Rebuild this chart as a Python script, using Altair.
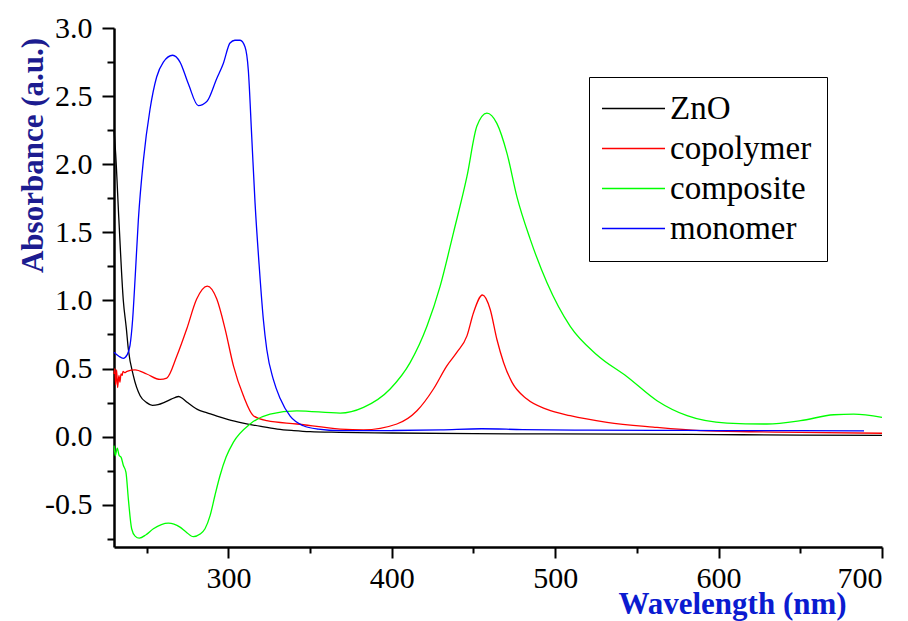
import altair as alt
import pandas as pd

series_names = ["ZnO", "copolymer", "composite", "monomer"]
series_colors = ["#000000", "#ff0000", "#00ff00", "#0000ff"]

wl_zno = [230, 231, 233, 235.7, 237.5, 238.8, 241.8, 246, 250, 253.5, 257, 260.5, 265, 269.5,
          272, 275, 281, 287, 293, 300, 309, 320, 330, 340, 350, 368, 400, 450, 500, 550,
          600, 650, 700]
abs_zno = [2.25, 2.08, 1.59, 1.0, 0.80, 0.64, 0.45, 0.30, 0.25, 0.23, 0.235, 0.25, 0.275, 0.295,
           0.28, 0.25, 0.20, 0.175, 0.15, 0.125, 0.10, 0.075, 0.056, 0.045, 0.037, 0.032, 0.027,
           0.022, 0.02, 0.018, 0.015, 0.012, 0.01]

wl_copo = [230, 230.5, 231, 231.6, 232.2, 233, 233.6, 234.3, 235, 235.5, 236.5, 238, 242.9, 250,
           258.2, 262.3, 268.4, 274.5, 280.6, 287.1, 292.9, 298, 303.1, 309.2, 315.3, 323.5,
           341.9, 368.4, 382.7, 403.1, 415.4, 425.5, 433.7, 439.9, 446, 450, 455.5, 460.2,
           464.3, 468.4, 473.5, 482.7, 495, 509.2, 531.7, 560, 588.8, 620, 650, 700]
abs_copo = [0.46, 0.50, 0.38, 0.49, 0.36, 0.45, 0.40, 0.46, 0.45, 0.48, 0.47, 0.48, 0.49, 0.46,
            0.42, 0.43, 0.59, 0.79, 1.01, 1.105, 1.01, 0.79, 0.52, 0.30, 0.154, 0.117,
            0.093, 0.056, 0.05, 0.093, 0.19, 0.35, 0.52, 0.62, 0.74, 0.91, 1.04, 0.935,
            0.715, 0.545, 0.40, 0.276, 0.20, 0.154, 0.105, 0.07, 0.044, 0.036, 0.032, 0.025]

wl_comp = [230, 230.8, 232, 233.2, 234.3, 235.7, 237.3, 238.8, 240.8, 242.9, 245.5, 249.6, 254.1,
           263.3, 270.4, 274.1, 278.6, 282.7, 285.7, 288.8, 291.8, 294.9, 298.6, 303.1, 313.3,
           325.5, 341.9, 368.4, 382.7, 399, 411.3, 421.5, 429.6, 437.8, 446, 452.1, 458.2,
           464.3, 470.5, 476.6, 484.7, 495, 509.2, 525.6, 544, 562.3, 580.7, 605.2, 629.6,
           650.1, 670.5, 682.7, 700]
abs_comp = [-0.066, -0.14, -0.085, -0.14, -0.15, -0.21, -0.26, -0.46, -0.676, -0.73, -0.745,
            -0.72, -0.676, -0.634, -0.664, -0.70, -0.734, -0.715, -0.676, -0.58, -0.43, -0.285,
            -0.15, -0.04, 0.093, 0.166, 0.19, 0.173, 0.215, 0.35, 0.545, 0.81, 1.105, 1.50,
            1.91, 2.28, 2.375, 2.30, 2.08, 1.76, 1.45, 1.13, 0.81, 0.60, 0.44, 0.264, 0.154,
            0.10, 0.093, 0.117, 0.161, 0.166, 0.142]

wl_mono = [230, 233, 235.7, 238, 239.8, 241.4, 243, 244.9, 248, 252, 256.1, 260.2, 265.9, 270.4,
           275.5, 281.6, 286.8, 292.9, 296.9, 301, 304, 307.2, 310.2, 312.2, 314.3, 316.3, 319,
           321.4, 323.5, 327.5, 331.7, 337.8, 345.9, 355, 368.4, 400, 430, 455, 480, 520, 560,
           600, 650, 689]
abs_mono = [0.62, 0.59, 0.575, 0.60, 0.67, 0.86, 1.18, 1.59, 2.03, 2.40, 2.64, 2.75, 2.80, 2.75,
            2.59, 2.43, 2.46, 2.63, 2.74, 2.89, 2.91, 2.91, 2.86, 2.69, 2.20, 1.72, 1.23,
            0.86, 0.64, 0.42, 0.28, 0.15, 0.08, 0.055, 0.044, 0.045, 0.05, 0.058, 0.052, 0.048,
            0.046, 0.045, 0.044, 0.043]

x_ticks = [250, 300, 350, 400, 450, 500, 550, 600, 650, 700]
y_ticks = [-0.75, -0.5, -0.25, 0.0, 0.25, 0.5, 0.75, 1.0, 1.25, 1.5, 1.75, 2.0, 2.25, 2.5,
           2.75, 3.0]

frames = []
for name, wl, ab in [("ZnO", wl_zno, abs_zno), ("copolymer", wl_copo, abs_copo),
                     ("composite", wl_comp, abs_comp), ("monomer", wl_mono, abs_mono)]:
    frames.append(pd.DataFrame({"wavelength": wl, "absorbance": ab, "sample": name}))
df = pd.concat(frames, ignore_index=True)

FONT = "Liberation Serif"
major_y = "abs(datum.value*2 - round(datum.value*2)) < 0.001"
major_x = "datum.value % 100 === 0"

chart = alt.Chart(df).mark_line(strokeWidth=1.3, interpolate="monotone").encode(
    x=alt.X("wavelength:Q",
            scale=alt.Scale(domain=[230, 700], nice=False, zero=False),
            axis=alt.Axis(values=x_ticks, title="Wavelength (nm)",
                          labelExpr=f"{major_x} ? datum.label : ''",
                          tickSize={"condition": {"test": major_x, "value": 11}, "value": 6},
                          labelPadding=5, labelFontSize=30,
                          titleX=618, titleY=66, titleAlign="center", titleFontSize=31,
                          titleBaseline="alphabetic", titleColor="#0b1bd0")),
    y=alt.Y("absorbance:Q",
            scale=alt.Scale(domain=[-0.81, 3.0], nice=False, zero=False),
            axis=alt.Axis(values=y_ticks, title="Absorbance (a.u.)",
                          labelExpr=f"{major_y} ? (datum.value < 0 ? '-' + format(-datum.value, '.1f') : format(datum.value, '.1f')) : ''",
                          tickSize={"condition": {"test": major_y, "value": 12}, "value": 7},
                          labelPadding=10, labelFontSize=30,
                          titleAngle=270, titleX=-72, titleY=127, titleAlign="center",
                          titleFontSize=31,
                          titleBaseline="alphabetic", titleColor="#1c1c90")),
    color=alt.Color("sample:N",
                    scale=alt.Scale(domain=series_names, range=series_colors),
                    legend=alt.Legend(title=None, orient="none", legendX=475, legendY=49,
                                      symbolType="M-3,0H3", symbolSize=441,
                                      symbolStrokeWidth=1.5, symbolOffset=13, labelOffset=20,
                                      labelFont=FONT, labelFontSize=33, labelColor="black",
                                      rowPadding=6, padding=15, strokeColor="black",
                                      fillColor="white", labelLimit=400)),
    order=alt.Order("sample:N"),
    detail="sample:N",
).properties(
    width=768, height=519,
    background="white",
    autosize=alt.AutoSizeParams(type="none"),
    padding={"left": 114, "top": 28, "right": 26, "bottom": 74},
).configure_view(stroke=None).configure_axis(
    domainColor="black", domainWidth=2.5, tickColor="black", tickWidth=2,
    labelFont=FONT, labelColor="black", grid=False,
    titleFont=FONT, titleFontSize=30, titleFontWeight="bold",
)

chart.save("out.html", embed_options={"renderer": "svg", "actions": False})
